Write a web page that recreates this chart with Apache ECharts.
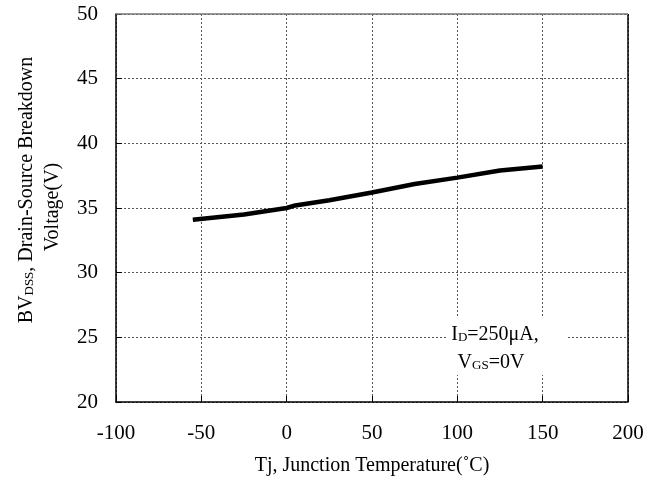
<!DOCTYPE html>
<html><head><meta charset="utf-8">
<script src="https://cdn.jsdelivr.net/npm/echarts@6/dist/echarts.min.js"></script>
<style>html,body{margin:0;padding:0;background:#fff}#c{width:660px;height:486px}</style>
</head><body><div id="c"></div>
<script>
const temps = [-55, -25, 0, 5, 25, 50, 75, 100, 125, 150];
const bvdss = [34.1, 34.5, 35.0, 35.2, 35.6, 36.2, 36.85, 37.35, 37.9, 38.2];
const xTicks = [-100, -50, 0, 50, 100, 150, 200];
const yTicks = [20, 25, 30, 35, 40, 45, 50];
const FONT = 'Liberation Serif';
const chart = echarts.init(document.getElementById('c'));
const sub = {fontFamily: FONT, fontSize: 13, fill: '#000', padding: [5,0,0,0]};
const main = {fontFamily: FONT, fontSize: 20, fill: '#000'};
chart.setOption({
  animation: false,
  backgroundColor: '#fff',
  grid: {left: 116, right: 32, top: 14, bottom: 84},
  xAxis: {
    type: 'value', min: xTicks[0], max: xTicks[xTicks.length-1], interval: 50,
    axisLine: {onZero: false, lineStyle: {color: '#000', width: 1.5}},
    axisTick: {inside: true, length: 6, lineStyle: {color: '#000'}},
    axisLabel: {color: '#000', fontFamily: FONT, fontSize: 21, margin: 21},
    splitLine: {show: true, lineStyle: {color: '#555', type: [2, 2], width: 1}},
    name: 'Tj, Junction Temperature(˚C)', nameLocation: 'middle', nameGap: 54,
    nameTextStyle: {color: '#000', fontFamily: FONT, fontSize: 20}
  },
  yAxis: {
    type: 'value', min: yTicks[0], max: yTicks[yTicks.length-1], interval: 5,
    axisLine: {onZero: false, lineStyle: {color: '#000', width: 1.5}},
    axisTick: {inside: true, length: 6, lineStyle: {color: '#000'}},
    axisLabel: {color: '#000', fontFamily: FONT, fontSize: 21, margin: 18},
    splitLine: {show: true, lineStyle: {color: '#555', type: [2, 2], width: 1}}
  },
  graphic: [
    {type: 'line', shape: {x1: 628, y1: 14, x2: 628, y2: 402}, style: {stroke: '#000', lineWidth: 1.5}, z: 10},
    {type: 'line', shape: {x1: 116, y1: 14, x2: 628, y2: 14}, style: {stroke: '#777', lineWidth: 1.5}, z: 10},
    {type: 'text', x: 27, y: 190, rotation: Math.PI / 2, z: 6,
      style: {text: '{m|BV}{s|DSS}{m|, Drain-Source Breakdown}', align: 'center', verticalAlign: 'middle',
        rich: {m: main, s: sub}}},
    {type: 'text', x: 53, y: 207, rotation: Math.PI / 2, z: 6,
      style: {text: 'Voltage(V)', align: 'center', verticalAlign: 'middle', font: '20px "Liberation Serif"', fill: '#000'}},
    {type: 'rect', shape: {x: 446, y: 317, width: 122, height: 58}, style: {fill: '#fff'}, z: 5},
    {type: 'text', x: 495, y: 335, z: 6,
      style: {text: '{m|I}{s|D}{m|=250μA,}', align: 'center', verticalAlign: 'middle',
        rich: {m: main, s: sub}}},
    {type: 'text', x: 491, y: 363, z: 6,
      style: {text: '{m|V}{s|GS}{m|=0V}', align: 'center', verticalAlign: 'middle',
        rich: {m: main, s: sub}}}
  ],
  series: [{
    type: 'line', data: temps.map((t, i) => [t, bvdss[i]]),
    showSymbol: false, lineStyle: {color: '#000', width: 4.5}, z: 3
  }]
});
</script></body></html>
